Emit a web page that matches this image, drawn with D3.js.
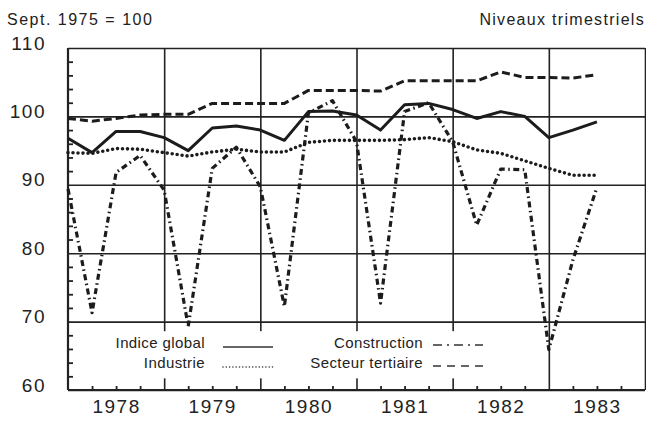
<!DOCTYPE html>
<html>
<head>
<meta charset="utf-8">
<script src="https://cdn.jsdelivr.net/npm/d3@7"></script>
<style>
  body { margin: 0; background: #fff; }
  text { font-family: "Liberation Sans", Arial, sans-serif; fill: #222; }
</style>
</head>
<body>
<div class="canvas"></div>
<script>
// data, quarterly, 1978 T1 -> 1983 T3
const years = [1978, 1979, 1980, 1981, 1982, 1983];
const quarters = years.flatMap(yr => [1, 2, 3, 4].map(q => yr + 'T' + q)).slice(0, 23);

const indiceGlobal = [96.8, 94.7, 97.8, 97.8, 96.9, 95.0, 98.3, 98.6, 98.0, 96.5, 100.7, 100.8,
  100.2, 98.0, 101.7, 101.9, 101.0, 99.7, 100.7, 100.0, 96.9, 98.0, 99.2];
const industrie = [94.7, 94.6, 95.3, 95.2, 94.7, 94.2, 94.8, 95.2, 94.8, 94.8, 96.2, 96.5,
  96.5, 96.5, 96.6, 96.9, 96.3, 95.1, 94.6, 93.5, 92.4, 91.4, 91.4];
const construction = [89.4, 71.3, 91.8, 94.3, 89.2, 69.3, 92.4, 95.5, 89.7, 72.2, 100.5, 102.3,
  96.3, 72.7, 100.7, 102.0, 96.3, 84.1, 92.3, 92.2, 65.9, 79.0, 89.6];
const tertiaire = [99.7, 99.3, 99.7, 100.2, 100.3, 100.3, 101.9, 101.9, 101.9, 101.9, 103.8, 103.8,
  103.8, 103.7, 105.2, 105.2, 105.2, 105.2, 106.5, 105.7, 105.7, 105.6, 106.1];

const yTicks = [60, 70, 80, 90, 100, 110];
const seriesNames = ['Indice global', 'Industrie', 'Construction', 'Secteur tertiaire'];

const svg = d3.select('.canvas')
  .append('svg')
  .attr('width', 646)
  .attr('height', 421);

const margin = {top: 48, right: 1, bottom: 31, left: 68};
const graphWidth = 646 - margin.left - margin.right;
const graphHeight = 421 - margin.top - margin.bottom;

const graph = svg.append('g')
  .attr('transform', `translate(${margin.left},${margin.top})`);

const x = d3.scaleLinear()
  .domain([1978, 1984])
  .range([0, graphWidth]);
const y = d3.scaleLinear()
  .domain([60, 110])
  .range([graphHeight, 0]);

const tq = i => 1978 + i / 4;

// header texts
svg.append('text')
  .attr('x', 7).attr('y', 25)
  .attr('font-size', 16).attr('letter-spacing', 1.5)
  .text('Sept. 1975 = 100');
svg.append('text')
  .attr('x', 645).attr('y', 25)
  .attr('text-anchor', 'end')
  .attr('font-size', 16).attr('letter-spacing', 1.3)
  .text('Niveaux trimestriels');

// horizontal grid + labels
const yGrid = graph.append('g')
  .call(d3.axisLeft(y).tickValues(yTicks).tickSize(-graphWidth).tickPadding(22).tickFormat(d3.format('d')));
yGrid.select('.domain').remove();
yGrid.selectAll('line').attr('stroke', '#222').attr('stroke-width', 1.6);
yGrid.selectAll('text')
  .attr('y', -5)
  .attr('font-size', 19).attr('letter-spacing', 1.5)
  .attr('font-family', '"Liberation Sans", Arial, sans-serif')
  .attr('fill', '#222');

// minor y ticks, inside
const yMinor = graph.append('g')
  .call(d3.axisLeft(y).tickValues(d3.range(60, 110, 2).filter(v => v % 10 !== 0)).tickSize(-5).tickFormat(''));
yMinor.select('.domain').remove();
yMinor.selectAll('line').attr('stroke', '#222').attr('stroke-width', 1.8);

// vertical grid at year boundaries
const xGrid = graph.append('g')
  .call(d3.axisBottom(x).tickValues(years.map(d => d + 1)).tickSize(graphHeight).tickFormat(''));
xGrid.select('.domain').remove();
xGrid.selectAll('line').attr('stroke', '#222').attr('stroke-width', 1.6);

// legend background masks the grid
graph.append('rect')
  .attr('x', 7).attr('y', y(68.6))
  .attr('width', 460).attr('height', y(61.7) - y(68.6))
  .attr('fill', '#fff');

// quarter ticks on the bottom axis
const xMinor = graph.append('g')
  .attr('transform', `translate(0,${graphHeight})`)
  .call(d3.axisBottom(x).tickValues(d3.range(1, 24).map(i => tq(i)).filter((d, i) => (i + 1) % 4 !== 0)).tickSize(-4).tickFormat(''));
xMinor.select('.domain').remove();
xMinor.selectAll('line').attr('stroke', '#222').attr('stroke-width', 1.8);

// axis lines
graph.append('line')
  .attr('x1', 0).attr('x2', 0).attr('y1', 0).attr('y2', graphHeight)
  .attr('stroke', '#222').attr('stroke-width', 2.2);
graph.append('line')
  .attr('x1', 0).attr('x2', graphWidth).attr('y1', graphHeight).attr('y2', graphHeight)
  .attr('stroke', '#222').attr('stroke-width', 2.2);

// year labels
const xLabels = graph.append('g')
  .attr('transform', `translate(0,${graphHeight})`)
  .call(d3.axisBottom(x).tickValues(years.map(d => d + 0.5)).tickSize(0).tickPadding(10).tickFormat(d => Math.floor(d)));
xLabels.select('.domain').remove();
xLabels.selectAll('text')
  .attr('font-size', 19).attr('letter-spacing', 1.5)
  .attr('font-family', '"Liberation Sans", Arial, sans-serif')
  .attr('fill', '#222');

// series
const styles = [
  {values: indiceGlobal, dash: null, cap: 'butt', w: 3},
  {values: industrie, dash: '0 5', cap: 'round', w: 3.6},
  {values: construction, dash: '6 3.5 1.5 3.5', cap: 'butt', w: 3.2},
  {values: tertiaire, dash: '8 4', cap: 'butt', w: 3}
];

const line = d3.line()
  .x((d, i) => x(tq(i)))
  .y(d => y(d));

graph.selectAll('path.series')
  .data(styles)
  .enter()
  .append('path')
  .attr('class', 'series')
  .attr('d', d => line(d.values))
  .attr('fill', 'none')
  .attr('stroke', '#1c1c1c')
  .attr('stroke-width', d => d.w)
  .attr('stroke-linejoin', 'round')
  .attr('stroke-linecap', d => d.cap)
  .attr('stroke-dasharray', d => d.dash);

// legend
const legendItems = [
  {name: seriesNames[0], tx: 137, ty: 300, lx: 155, ly: 299, dash: null, cap: 'butt'},
  {name: seriesNames[1], tx: 137, ty: 320, lx: 155, ly: 319, dash: '0 3.3', cap: 'round'},
  {name: seriesNames[2], tx: 355, ty: 300, lx: 365, ly: 297, dash: '9 5 2 5', cap: 'butt'},
  {name: seriesNames[3], tx: 355, ty: 320, lx: 365, ly: 318, dash: '8 6', cap: 'butt'}
];

const legend = graph.selectAll('g.legend')
  .data(legendItems)
  .enter()
  .append('g')
  .attr('class', 'legend');

legend.append('text')
  .attr('x', d => d.tx)
  .attr('y', d => d.ty)
  .attr('text-anchor', 'end')
  .attr('font-size', 15)
  .attr('letter-spacing', 0.4)
  .text(d => d.name);

legend.append('line')
  .attr('x1', d => d.lx)
  .attr('x2', d => d.lx + 50)
  .attr('y1', d => d.ly)
  .attr('y2', d => d.ly)
  .attr('stroke', '#333')
  .attr('stroke-width', d => d.cap === 'round' ? 1.6 : 1.3)
  .attr('stroke-linecap', d => d.cap)
  .attr('stroke-dasharray', d => d.dash);
</script>
</body>
</html>
